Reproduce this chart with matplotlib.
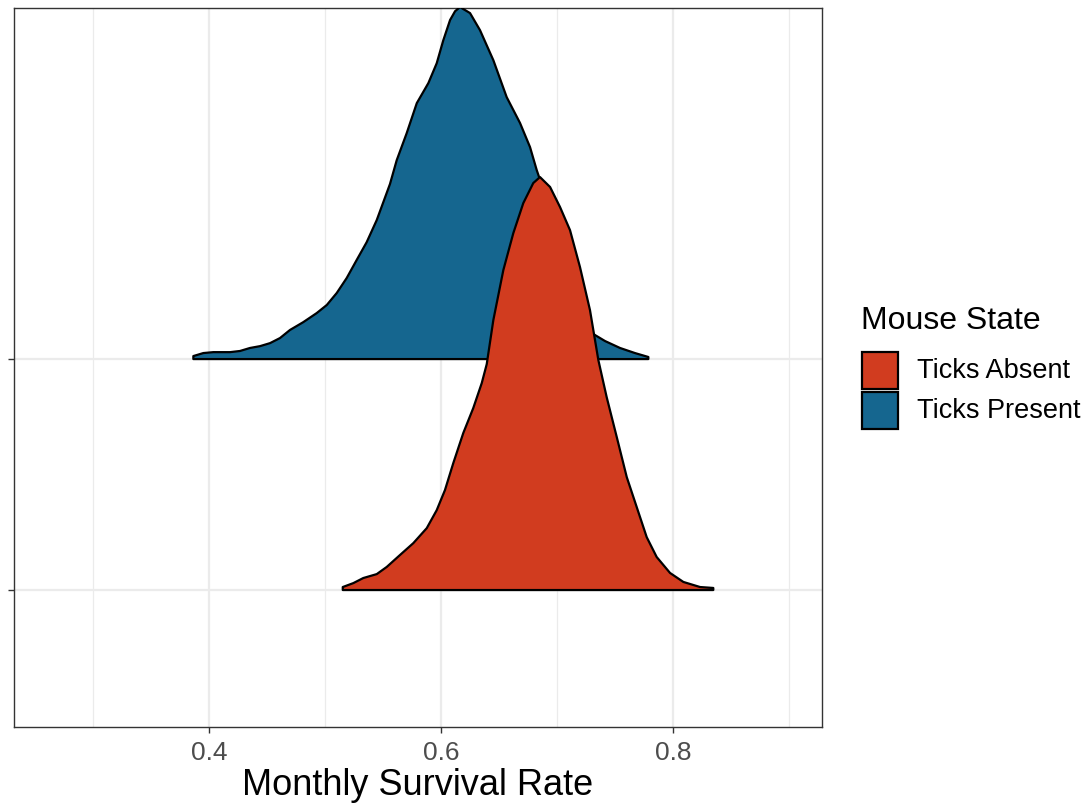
import matplotlib
matplotlib.use("Agg")
import matplotlib.pyplot as plt
from matplotlib.patches import Rectangle

plt.rcParams['font.family'] = ['Liberation Sans', 'DejaVu Sans']

# density outlines (survival rate, ridge height in units of row spacing)
present_x = [0.3865, 0.3951, 0.4037, 0.4181, 0.4267, 0.4353, 0.4440, 0.4526,
             0.4612, 0.4698, 0.4813, 0.4928, 0.5015, 0.5101, 0.5187, 0.5273,
             0.5359, 0.5446, 0.5560, 0.5618, 0.5704, 0.5791, 0.5891, 0.5963,
             0.6020, 0.6078, 0.6121, 0.6164, 0.6250, 0.6336, 0.6451, 0.6566,
             0.6681, 0.6767, 0.6825, 0.6940, 0.7069, 0.7181, 0.7284, 0.7414,
             0.7543, 0.7672, 0.7787]
present_h = [0.013, 0.026, 0.030, 0.030, 0.035, 0.048, 0.056, 0.069,
             0.091, 0.126, 0.160, 0.199, 0.234, 0.286, 0.351, 0.429,
             0.506, 0.602, 0.758, 0.861, 0.978, 1.108, 1.195, 1.281,
             1.381, 1.468, 1.506, 1.524, 1.498, 1.424, 1.294, 1.134,
             1.022, 0.918, 0.818, 0.649, 0.411, 0.238, 0.117, 0.078,
             0.048, 0.026, 0.009]

absent_x = [0.5153, 0.5244, 0.5330, 0.5446, 0.5532, 0.5647, 0.5761, 0.5877,
            0.5963, 0.6034, 0.6106, 0.6192, 0.6278, 0.6351, 0.6394, 0.6451,
            0.6537, 0.6623, 0.6709, 0.6795, 0.6853, 0.6940, 0.7026, 0.7112,
            0.7198, 0.7284, 0.7356, 0.7428, 0.7515, 0.7601, 0.7687, 0.7773,
            0.7859, 0.7974, 0.8089, 0.8233, 0.8347]
absent_h = [0.013, 0.030, 0.052, 0.069, 0.100, 0.152, 0.203, 0.268,
            0.346, 0.433, 0.550, 0.680, 0.788, 0.896, 0.978, 1.169,
            1.385, 1.545, 1.675, 1.762, 1.788, 1.745, 1.658, 1.558,
            1.398, 1.212, 0.996, 0.835, 0.662, 0.489, 0.359, 0.229,
            0.143, 0.074, 0.035, 0.013, 0.009]

groups = ["Ticks Absent", "Ticks Present"]
colors = ["#D13C1F", "#15668F"]
rows = [1, 2]

W, H = 1091, 805
fig = plt.figure(figsize=(W / 100, H / 100), dpi=100)
ax = fig.add_axes([14 / W, 1 - 727 / H, (822 - 14) / W, (727 - 8) / H])

# top ridge first so the lower one overlaps it
for xs, hs, row, col in [(present_x, present_h, 2, colors[1]),
                         (absent_x, absent_h, 1, colors[0])]:
    px = [xs[0]] + xs + [xs[-1]]
    py = [row] + [row + h for h in hs] + [row]
    ax.fill(px, py, facecolor=col, edgecolor="black", linewidth=1.6,
            joinstyle="round", zorder=3)

ax.set_xlim(0.2319, 0.9284)
ax.set_ylim(0.407, 3.52)

ax.set_xticks([0.4, 0.6, 0.8])
ax.set_xticklabels(["0.4", "0.6", "0.8"])
ax.set_xticks([0.3, 0.5, 0.7, 0.9], minor=True)
ax.set_yticks(rows)
ax.set_yticklabels(["", ""])

ax.grid(True, which="major", color="#EBEBEB", linewidth=1.6, zorder=0)
ax.grid(True, which="minor", axis="x", color="#EBEBEB", linewidth=0.9, zorder=0)
ax.set_axisbelow(True)

ax.tick_params(axis="both", which="major", length=4, width=1, color="#333333",
               labelsize=19, labelcolor="#4D4D4D", pad=6)
ax.tick_params(axis="x", which="minor", length=0)
for s in ax.spines.values():
    s.set_color("#333333")
    s.set_linewidth(1)

ax.set_xlabel("Monthly Survival Rate", fontsize=26, color="black", labelpad=2)

# legend drawn in figure pixels
def fx(p):
    return p / W

def fy(p):
    return 1 - p / H

fig.text(fx(861), fy(321), "Mouse State", fontsize=23, va="center", ha="left")
for i, (g, c) in enumerate(zip(groups, colors)):
    top = 352 + i * 40
    fig.patches.append(Rectangle((fx(862), fy(top + 37)), 36 / W, 37 / H,
                                 facecolor=c, edgecolor="black", linewidth=1.6,
                                 transform=fig.transFigure, figure=fig))
    fig.text(fx(917), fy(top + 19), g, fontsize=19.5, va="center", ha="left")

fig.savefig("out.png", dpi=100)
